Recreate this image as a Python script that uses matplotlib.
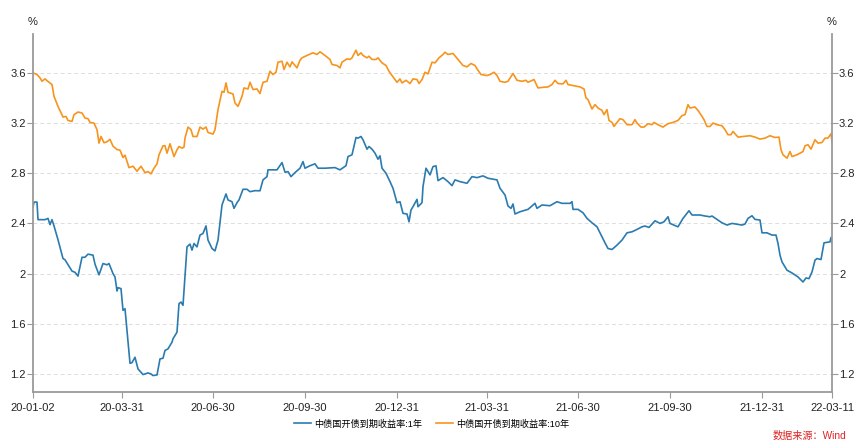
import matplotlib
matplotlib.use("Agg")
import matplotlib.pyplot as plt
import matplotlib.dates as mdates
import numpy as np
import pandas as pd

plt.rcParams['font.family'] = ['Liberation Sans', 'Noto Sans CJK SC', 'DejaVu Sans']

start_date = "2020-01-02"

# 中债国开债到期收益率:1年 (day offset from start_date, %)
days_1y = [0, 1, 4, 5, 12, 15, 17, 19, 21, 25, 30, 32, 39, 42, 45, 49, 52, 55, 60, 62,
           66, 70, 74, 76, 80, 82, 84, 85, 88, 90, 92, 97, 99, 102, 105, 110, 115, 118, 120, 124,
           127, 130, 132, 135, 139, 140, 144, 146, 148, 150, 154, 157, 159, 161, 164, 167, 170, 173, 175, 179,
           182, 185, 189, 193, 195, 199, 201, 204, 206, 210, 214, 217, 222, 227, 230, 234, 235, 239, 244, 249,
           252, 255, 258, 262, 267, 270, 272, 277, 282, 285, 292, 302, 307, 313, 315, 319, 323, 325, 328, 330,
           334, 336, 339, 342, 345, 347, 349, 353, 357, 360, 364, 367, 370, 374, 376, 378, 380, 384, 385, 389,
           390, 393, 397, 400, 403, 405, 410, 415, 419, 422, 427, 434, 439, 444, 450, 455, 464, 467, 472, 475,
           478, 480, 482, 487, 495, 498, 502, 504, 509, 517, 524, 529, 537, 539, 540, 545, 550, 554, 559, 564,
           567, 572, 575, 579, 584, 589, 594, 599, 604, 609, 612, 616, 622, 627, 631, 635, 637, 645, 650, 656,
           659, 667, 672, 677, 679, 684, 689, 694, 699, 709, 712, 715, 719, 722, 727, 729, 734, 739, 743, 745,
           747, 749, 754, 759, 765, 770, 773, 776, 779, 782, 784, 788, 791, 797, 798, 799]
yield_1y = [2.53, 2.57, 2.57, 2.43, 2.43, 2.44, 2.39, 2.43, 2.38, 2.27, 2.12, 2.11, 2.02, 2.01, 1.98, 2.13, 2.13, 2.155, 2.147, 2.075,
            1.99, 2.08, 2.07, 2.08, 2.0, 1.973, 1.861, 1.888, 1.88, 1.707, 1.72, 1.285, 1.29, 1.333, 1.24, 1.195, 1.208, 1.2, 1.187, 1.192,
            1.32, 1.325, 1.387, 1.4, 1.453, 1.48, 1.533, 1.76, 1.773, 1.747, 2.213, 2.235, 2.187, 2.24, 2.213, 2.307, 2.32, 2.38, 2.267, 2.2,
            2.181, 2.267, 2.547, 2.635, 2.587, 2.573, 2.52, 2.565, 2.587, 2.672, 2.672, 2.653, 2.661, 2.66, 2.747, 2.773, 2.827, 2.827, 2.827, 2.885,
            2.808, 2.813, 2.773, 2.805, 2.84, 2.893, 2.84, 2.86, 2.875, 2.84, 2.84, 2.845, 2.827, 2.86, 2.933, 2.947, 3.085, 3.08, 3.093, 3.067,
            2.992, 3.013, 2.992, 2.96, 2.912, 2.939, 2.84, 2.8, 2.733, 2.68, 2.565, 2.573, 2.48, 2.475, 2.413, 2.507, 2.533, 2.592, 2.533, 2.565,
            2.693, 2.84, 2.787, 2.853, 2.859, 2.741, 2.765, 2.733, 2.701, 2.747, 2.733, 2.72, 2.773, 2.765, 2.779, 2.76, 2.747, 2.68, 2.627, 2.539,
            2.52, 2.555, 2.475, 2.493, 2.512, 2.533, 2.56, 2.52, 2.547, 2.541, 2.573, 2.56, 2.56, 2.573, 2.512, 2.512, 2.485, 2.44, 2.405, 2.373,
            2.325, 2.245, 2.2, 2.192, 2.227, 2.267, 2.325, 2.333, 2.352, 2.373, 2.379, 2.368, 2.421, 2.4, 2.413, 2.453, 2.4, 2.373, 2.44, 2.501,
            2.467, 2.467, 2.459, 2.453, 2.459, 2.432, 2.405, 2.387, 2.4, 2.387, 2.395, 2.44, 2.461, 2.432, 2.427, 2.325, 2.325, 2.307, 2.307, 2.24,
            2.147, 2.093, 2.027, 2.005, 1.973, 1.933, 1.965, 1.96, 2.013, 2.107, 2.12, 2.112, 2.245, 2.253, 2.288, 2.245]

# 中债国开债到期收益率:10年
days_10y = [0, 4, 7, 9, 12, 16, 19, 21, 25, 30, 33, 35, 39, 41, 45, 49, 52, 55, 57, 61,
            64, 66, 68, 71, 74, 77, 80, 84, 87, 90, 92, 96, 100, 104, 108, 112, 115, 118, 121, 124,
            126, 130, 132, 134, 137, 141, 144, 146, 149, 151, 152, 155, 158, 160, 164, 167, 170, 173, 175, 180,
            182, 185, 189, 191, 193, 195, 200, 202, 205, 209, 211, 215, 217, 220, 224, 227, 230, 234, 237, 240,
            243, 245, 249, 251, 254, 257, 259, 264, 267, 269, 274, 280, 284, 287, 292, 297, 299, 304, 307, 309,
            314, 317, 319, 323, 325, 328, 330, 334, 336, 339, 343, 345, 349, 353, 356, 359, 364, 367, 369, 373,
            377, 380, 384, 386, 389, 392, 395, 399, 402, 406, 410, 412, 415, 420, 425, 430, 434, 438, 442, 444,
            448, 454, 457, 461, 464, 467, 472, 475, 480, 484, 489, 493, 495, 501, 505, 510, 515, 519, 522, 525,
            530, 533, 535, 540, 547, 551, 553, 555, 559, 562, 565, 569, 571, 574, 576, 579, 581, 584, 587, 590,
            594, 599, 602, 604, 608, 611, 615, 619, 621, 625, 630, 635, 640, 645, 649, 652, 655, 657, 662, 665,
            669, 671, 674, 677, 680, 684, 689, 692, 695, 698, 700, 705, 710, 717, 722, 727, 732, 737, 742, 746,
            748, 750, 754, 757, 759, 764, 770, 772, 775, 778, 782, 785, 789, 792, 795, 798, 799]
yield_10y = [3.6, 3.587, 3.56, 3.533, 3.552, 3.525, 3.507, 3.413, 3.333, 3.248, 3.253, 3.221, 3.213, 3.267, 3.288, 3.28, 3.24, 3.235, 3.205, 3.2,
             3.147, 3.04, 3.093, 3.043, 3.051, 3.07, 3.016, 2.989, 2.984, 2.925, 2.944, 2.845, 2.856, 2.816, 2.856, 2.805, 2.813, 2.795, 2.84, 2.875,
             2.947, 3.019, 3.019, 2.96, 3.035, 2.933, 2.987, 3.013, 3.0, 3.008, 3.08, 3.168, 3.147, 3.093, 3.093, 3.168, 3.152, 3.168, 3.125, 3.112,
             3.147, 3.307, 3.453, 3.445, 3.52, 3.445, 3.432, 3.36, 3.333, 3.413, 3.48, 3.472, 3.525, 3.467, 3.472, 3.435, 3.525, 3.533, 3.613, 3.587,
             3.605, 3.685, 3.693, 3.627, 3.685, 3.648, 3.688, 3.64, 3.701, 3.72, 3.739, 3.76, 3.747, 3.768, 3.739, 3.707, 3.667, 3.659, 3.64, 3.685,
             3.712, 3.707, 3.72, 3.781, 3.739, 3.76, 3.739, 3.72, 3.733, 3.707, 3.707, 3.72, 3.68, 3.659, 3.613, 3.579, 3.525, 3.552, 3.52, 3.541,
             3.515, 3.552, 3.547, 3.515, 3.547, 3.605, 3.592, 3.685, 3.68, 3.72, 3.747, 3.765, 3.747, 3.755, 3.707, 3.659, 3.648, 3.675, 3.659, 3.632,
             3.587, 3.579, 3.587, 3.605, 3.579, 3.533, 3.525, 3.533, 3.595, 3.541, 3.533, 3.541, 3.525, 3.547, 3.48, 3.485, 3.488, 3.507, 3.541, 3.515,
             3.512, 3.541, 3.507, 3.499, 3.488, 3.472, 3.4, 3.387, 3.312, 3.347, 3.32, 3.301, 3.267, 3.307, 3.221, 3.205, 3.173, 3.205, 3.235, 3.227,
             3.187, 3.187, 3.227, 3.2, 3.168, 3.168, 3.195, 3.187, 3.205, 3.187, 3.168, 3.195, 3.205, 3.221, 3.259, 3.267, 3.347, 3.32, 3.328, 3.301,
             3.253, 3.227, 3.173, 3.173, 3.2, 3.187, 3.179, 3.147, 3.107, 3.107, 3.133, 3.088, 3.093, 3.099, 3.088, 3.072, 3.08, 3.099, 3.085, 3.088,
             2.987, 2.947, 2.92, 2.973, 2.933, 2.947, 2.973, 3.019, 3.027, 2.992, 3.067, 3.04, 3.045, 3.08, 3.08, 3.115, 3.053]

tick_dates = ["2020-01-02", "2020-03-31", "2020-06-30", "2020-09-30", "2020-12-31",
              "2021-03-31", "2021-06-30", "2021-09-30", "2021-12-31", "2022-03-11"]
y_ticks = [1.2, 1.6, 2.0, 2.4, 2.8, 3.2, 3.6]
y_labels = ["1.2", "1.6", "2", "2.4", "2.8", "3.2", "3.6"]

base = pd.Timestamp(start_date)
x1 = base + pd.to_timedelta(days_1y, unit="D")
x10 = base + pd.to_timedelta(days_10y, unit="D")

fig = plt.figure(figsize=(8.65, 4.48), dpi=100)
ax = fig.add_axes([33 / 865, 1 - 392 / 448, (832 - 33) / 865, (392 - 34) / 448])

c1 = "#2a7bb0"
c10 = "#f7941d"
ax.plot(x1, yield_1y, color=c1, lw=1.2, label="中债国开债到期收益率:1年")
ax.plot(x10, yield_10y, color=c10, lw=1.2, label="中债国开债到期收益率:10年")

ax.set_xlim(pd.Timestamp(tick_dates[0]), pd.Timestamp(tick_dates[-1]))
ax.set_ylim(1.056, 3.91)
ax.set_yticks(y_ticks)
ax.set_yticklabels(y_labels)
ax.set_xticks([pd.Timestamp(d) for d in tick_dates])
ax.xaxis.set_major_formatter(mdates.DateFormatter("%y-%m-%d"))

ax.grid(axis="y", color="#dddddd", lw=0.7, ls=(0, (4, 3)))
ax.set_axisbelow(True)

spine_c = "#9a9a9a"
for s in ["left", "right", "bottom"]:
    ax.spines[s].set_color(spine_c)
    ax.spines[s].set_linewidth(1.3)
ax.spines["top"].set_visible(False)
ax.tick_params(axis="both", colors="#222222", labelsize=8, length=4, width=0.8)
ax.tick_params(axis="x", color=spine_c, pad=4)
ax.tick_params(axis="y", color=spine_c, pad=1)

ax2 = ax.twinx()
ax2.set_ylim(ax.get_ylim())
ax2.set_yticks(y_ticks)
ax2.set_yticklabels(y_labels)
for s in ["left", "right", "bottom", "top"]:
    ax2.spines[s].set_visible(False)
ax2.tick_params(axis="y", colors="#222222", labelsize=8, length=4, width=0.8, pad=1)
ax2.tick_params(axis="y", color=spine_c)

fig.text(33 / 865, 1 - 22 / 448, "%", ha="center", va="center", fontsize=8, color="#222222")
fig.text(832 / 865, 1 - 22 / 448, "%", ha="center", va="center", fontsize=8, color="#222222")

fig.legend(loc="center", bbox_to_anchor=(432 / 865, 1 - 424 / 448), ncol=2, frameon=False,
           fontsize=6.6, handlelength=1.8, columnspacing=1.5, handletextpad=0.4)
fig.text(846 / 865, 1 - 436 / 448, "数据来源：Wind", ha="right", va="center",
         fontsize=7.3, color="#e02020")

fig.savefig("out.png", dpi=100)
